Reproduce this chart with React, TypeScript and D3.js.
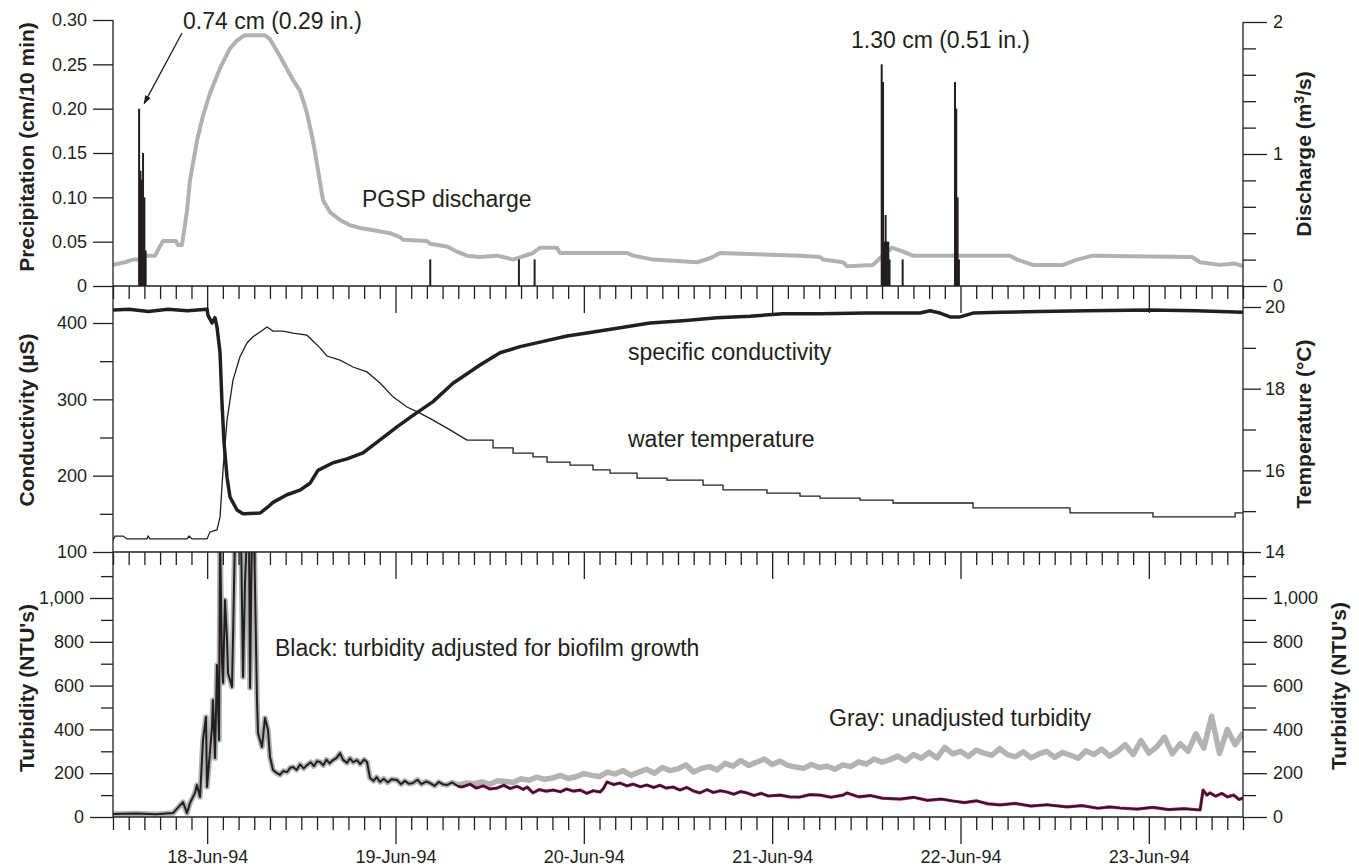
import { useEffect, useRef } from "react";
import * as d3 from "d3";

const W = 1359;
const H = 867;
const INK = "#231f20";
const FONT = "'Liberation Sans', Arial, Helvetica, sans-serif";

const startTime = new Date(1994, 5, 17, 12);
const endTime = new Date(1994, 5, 23, 12);

// every series is keyed by hours after 17-Jun-94 12:00

// precipitation, cm per 10 min
const precipHours = [3.2, 3.37, 3.53, 3.7, 3.87, 4.03, 40.3, 51.6, 53.6, 97.83, 98.0, 98.17, 98.33, 98.5, 98.67, 98.83, 100.5, 107.17, 107.33, 107.5, 107.67];
const precipCm = [0.2, 0.13, 0.12, 0.15, 0.1, 0.04, 0.03, 0.03, 0.03, 0.25, 0.23, 0.05, 0.08, 0.05, 0.05, 0.03, 0.03, 0.23, 0.2, 0.1, 0.03];

// PGSP discharge, m3/s
const dischargeHours = [0, 1.53, 2.55, 3.44, 4.33, 5.35, 5.99, 6.37, 8.03, 8.28, 8.79, 9.43, 9.81, 10.7, 11.47, 12.36, 13.64, 14.91, 15.8, 16.82, 19.37, 20.01, 21.28, 22.94, 23.83, 24.72, 25.49, 26.12, 26.76, 27.65, 28.93, 30.2, 31.48, 33.39, 35.3, 36.57, 36.96, 40.02, 40.4, 42.56, 43.84, 45.11, 46.77, 48.94, 49.7, 50.98, 53.52, 54.42, 56.58, 56.96, 65.5, 66.27, 68.82, 74.42, 76.08, 77.35, 87.55, 90.1, 90.48, 93.03, 93.54, 96.85, 97.74, 99.27, 100.68, 101.95, 114.31, 115.2, 117.24, 121.07, 122.85, 124.89, 137.51, 138.53, 141.08, 142.99, 144];
const dischargeM3s = [0.16, 0.18, 0.2, 0.2, 0.23, 0.23, 0.3, 0.34, 0.34, 0.31, 0.31, 0.57, 0.8, 1.1, 1.29, 1.46, 1.65, 1.8, 1.86, 1.9, 1.9, 1.87, 1.74, 1.56, 1.48, 1.31, 1.1, 0.88, 0.65, 0.56, 0.5, 0.46, 0.44, 0.42, 0.4, 0.37, 0.35, 0.34, 0.32, 0.3, 0.26, 0.23, 0.22, 0.23, 0.22, 0.2, 0.25, 0.29, 0.29, 0.25, 0.25, 0.23, 0.2, 0.18, 0.21, 0.25, 0.23, 0.22, 0.2, 0.18, 0.15, 0.16, 0.21, 0.29, 0.26, 0.23, 0.23, 0.2, 0.16, 0.16, 0.2, 0.23, 0.22, 0.18, 0.16, 0.17, 0.15];

// specific conductivity, uS
const condHours = [0, 2, 4.5, 7, 9.5, 11.98, 12.11, 12.62, 13.0, 13.25, 13.64, 13.89, 14.15, 14.53, 14.91, 15.8, 16.57, 18.73, 19.63, 20.39, 22.17, 23.83, 25.1, 26.12, 28.04, 29.82, 31.86, 34.03, 36.19, 38.23, 40.78, 43.33, 46.77, 49.32, 51.87, 54.42, 57.86, 60.4, 64.23, 68.43, 72.64, 76.97, 81.18, 85.38, 90.1, 96, 102.84, 104.11, 105.39, 106.67, 107.94, 109.6, 113.04, 118, 124.12, 132.15, 138, 144];
const condUS = [417, 418, 415, 418, 416, 418, 410, 400, 407, 395, 361, 295, 243, 198, 172, 155, 150, 151, 158, 165, 175, 181, 190, 207, 217, 222, 230, 247, 264, 279, 297, 321, 345, 361, 369, 375, 383, 387, 393, 400, 403, 407, 409, 412, 412, 413, 413, 416, 413, 408, 408, 413, 414, 415, 416, 417, 416, 414];

// water temperature, deg C
const tempHours = [0, 0.25, 1.27, 1.78, 4.33, 4.46, 4.72, 9.43, 9.69, 10.07, 11.98, 12.36, 13.25, 13.64, 14.02, 14.53, 15.29, 16.18, 17.08, 17.84, 18.73, 19.63, 20.39, 21.66, 22.94, 24.72, 26.38, 27.27, 28.93, 30.58, 32.37, 34.03, 35.68, 37.47, 39.12, 40.78, 42.95, 45.11, 48.43, 50.98, 53.52, 55.31, 58.24, 61.17, 63.34, 66.78, 70.6, 75.19, 77.74, 83.34, 87.55, 90.1, 95.2, 99.4, 109.6, 121.96, 132.53, 142.35, 142.99, 144];
const tempC = [14.29, 14.39, 14.39, 14.32, 14.32, 14.39, 14.32, 14.32, 14.39, 14.32, 14.32, 14.49, 14.54, 14.86, 16.01, 17.23, 18.21, 18.78, 19.12, 19.27, 19.39, 19.51, 19.41, 19.41, 19.36, 19.31, 19.0, 18.8, 18.7, 18.53, 18.41, 18.14, 17.8, 17.55, 17.4, 17.23, 16.99, 16.74, 16.55, 16.42, 16.33, 16.2, 16.13, 16.01, 15.93, 15.81, 15.76, 15.64, 15.52, 15.44, 15.37, 15.32, 15.27, 15.2, 15.08, 14.96, 14.86, 14.86, 14.96, 14.96];

// turbidity adjusted for biofilm growth, NTU (values above the frame are clipped)
const turbHours = [0, 3, 5.5, 7.65, 8.92, 9.43, 9.81, 10.45, 10.7, 11.09, 11.47, 11.85, 11.98, 12.62, 12.74, 13.0, 13.25, 13.51, 13.64, 13.89, 14.02, 14.27, 14.53, 14.66, 15.16, 15.29, 15.55, 16.31, 16.57, 16.82, 17.08, 17.33, 17.46, 17.71, 17.97, 18.35, 18.48, 18.99, 19.37, 19.75, 20.01, 20.39, 20.9, 21.28, 21.7, 22.17, 22.6, 22.94, 23.4, 23.83, 24.3, 24.72, 25.2, 25.6, 26.0, 26.38, 26.8, 27.2, 27.6, 28.04, 28.5, 28.93, 29.3, 29.82, 30.2, 30.6, 31.09, 31.5, 32.0, 32.37, 32.75, 33.2, 33.6, 34.03, 34.5, 35.0, 35.5, 36.19, 36.7, 37.2, 37.7, 38.23, 38.8, 39.3, 39.9, 40.4, 41.0, 41.5, 42.0, 42.56, 43.2, 44.0, 44.47, 45.5, 46.3, 47.2, 48.0, 48.94, 49.8, 50.6, 51.5, 52.3, 52.77, 53.52, 54.3, 55.2, 56.07, 57.0, 57.8, 58.7, 59.51, 60.4, 61.2, 62.06, 62.5, 62.95, 63.8, 64.61, 65.5, 66.3, 67.2, 68.05, 68.9, 69.7, 70.5, 71.36, 72.25, 73.1, 74.0, 74.8, 75.7, 76.5, 77.4, 78.24, 79.1, 80.0, 80.79, 81.7, 82.6, 83.5, 84.99, 86.2, 87.55, 88.8, 90.1, 91.5, 93.03, 93.54, 95.0, 96.5, 98.0, 100.3, 102.0, 103.8, 105.5, 107.05, 108.5, 110.0, 111.5, 113.04, 115.0, 117.0, 119.0, 121.58, 123.5, 125.5, 127.0, 128.33, 130.5, 132.5, 134.5, 136.5, 138.53, 138.91, 139.4, 139.8, 140.5, 141.3, 142.0, 142.8, 143.5, 144];
const turbAdjusted = [14, 16, 13, 18, 68, 18, 64, 110, 146, 91, 352, 457, 137, 411, 534, 269, 694, 352, 1300, 703, 612, 991, 808, 658, 594, 808, 1300, 1300, 639, 1068, 1300, 1300, 589, 1300, 1300, 534, 384, 320, 452, 397, 274, 215, 200, 192, 210, 205, 225, 228, 215, 240, 222, 237, 250, 232, 255, 251, 236, 262, 245, 260, 270, 292, 262, 247, 268, 250, 260, 242, 262, 251, 178, 165, 182, 160, 175, 158, 172, 169, 150, 165, 152, 155, 170, 150, 162, 155, 142, 160, 150, 146, 158, 140, 137, 150, 132, 142, 128, 132, 145, 130, 140, 126, 137, 110, 125, 118, 123, 115, 128, 118, 123, 108, 120, 114, 130, 160, 148, 155, 142, 150, 138, 146, 135, 145, 132, 137, 123, 135, 118, 110, 125, 112, 120, 114, 104, 116, 110, 98, 108, 96, 100, 92, 91, 102, 100, 90, 100, 110, 92, 98, 86, 82, 90, 76, 82, 73, 66, 74, 60, 55, 62, 50, 56, 46, 52, 40, 46, 41, 36, 44, 34, 38, 32, 123, 100, 110, 95, 108, 92, 100, 80, 87];

// unadjusted turbidity where it leaves the adjusted record, hourly from 44 h
const rawStartHour = 44;
const turbUnadjusted = [146, 155, 152, 160, 150, 166, 162, 158, 175, 168, 182, 172, 178, 190, 176, 184, 198, 190, 185, 205, 196, 212, 190, 205, 218, 200, 226, 212, 220, 238, 205, 222, 230, 215, 245, 232, 258, 236, 250, 265, 240, 255, 236, 228, 222, 240, 226, 232, 218, 238, 230, 252, 242, 265, 250, 262, 278, 256, 285, 268, 295, 270, 318, 288, 300, 276, 305, 292, 282, 312, 285, 275, 298, 270, 288, 300, 272, 295, 282, 268, 302, 285, 310, 278, 300, 330, 285, 350, 292, 320, 365, 288, 335, 300, 380, 315, 460, 290, 400, 330, 385];

const precipTicks = [0, 0.05, 0.1, 0.15, 0.2, 0.25, 0.3];
const dischargeTicks = [0, 1, 2];
const dischargeMinor = [0.2, 0.4, 0.6, 0.8, 1.2, 1.4, 1.6, 1.8];
const condTicks = [100, 200, 300, 400];
const condMinor = [150, 250, 350];
const tempTicks = [14, 16, 18, 20];
const tempMinor = [15, 17, 19];
const turbTicks = [0, 200, 400, 600, 800, 1000];
const turbMinor = [100, 300, 500, 700, 900, 1100];

type Pt = [number, number];
const zip = (a: number[], b: number[]): Pt[] => a.slice(0, Math.min(a.length, b.length)).map((h, i) => [h, b[i]]);

export default function App() {
  const ref = useRef<SVGSVGElement>(null);

  useEffect(() => {
    const svg = d3.select(ref.current);
    svg.selectAll("*").remove();

    const L = 113;
    const R = 1243;
    const hr = (h: number) => new Date(startTime.getTime() + h * 3600000);
    const x = d3.scaleTime().domain([startTime, endTime]).range([L, R]);
    const xh = (h: number) => x(hr(h));

    const yPrecip = d3.scaleLinear().domain([0, 0.3]).range([286, 20]);
    const yDis = d3.scaleLinear().domain([0, 2]).range([286, 22]);
    const yCond = d3.scaleLinear().domain([100, 400]).range([552, 323]);
    const yTemp = d3.scaleLinear().domain([14, 20]).range([552, 307]);
    const yTurb = d3.scaleLinear().domain([0, 1000]).range([817, 598]);

    const defs = svg.append("defs");
    const clip = (id: string, top: number, bottom: number) =>
      defs.append("clipPath").attr("id", id).append("rect").attr("x", L).attr("y", top).attr("width", R - L).attr("height", bottom - top);
    clip("c1", 0, 286);
    clip("c2", 286, 552);
    clip("c3", 552, 817);
    defs.append("marker").attr("id", "arrow").attr("viewBox", "0 0 10 10").attr("refX", 9).attr("refY", 5)
      .attr("markerWidth", 9).attr("markerHeight", 9).attr("markerUnits", "userSpaceOnUse").attr("orient", "auto")
      .append("path").attr("d", "M0,1.5 L10,5 L0,8.5 Z").attr("fill", INK);

    const lineOf = (y: d3.ScaleLinear<number, number>, curve: d3.CurveFactory = d3.curveLinear) =>
      d3.line<Pt>().x((d) => xh(d[0])).y((d) => y(d[1])).curve(curve);

    // ---- panel 1: discharge + precipitation
    const g1 = svg.append("g").attr("clip-path", "url(#c1)");
    g1.append("path").datum(zip(dischargeHours, dischargeM3s)).attr("d", lineOf(yDis))
      .attr("fill", "none").attr("stroke", "#b1b1b3").attr("stroke-width", 4).attr("stroke-linejoin", "round");
    const step = xh(1 / 6) - xh(0);
    g1.selectAll("rect.bar").data(zip(precipHours, precipCm)).join("rect")
      .attr("x", (d) => xh(d[0])).attr("width", step + 0.7)
      .attr("y", (d) => yPrecip(d[1])).attr("height", (d) => 286 - yPrecip(d[1])).attr("fill", INK);

    // ---- panel 2: conductivity + temperature
    const g2 = svg.append("g").attr("clip-path", "url(#c2)");
    const temp = zip(tempHours, tempC);
    const stepFrom = 45.11;
    g2.append("path").datum(temp.filter((d) => d[0] <= stepFrom)).attr("d", lineOf(yTemp))
      .attr("fill", "none").attr("stroke", INK).attr("stroke-width", 1.3);
    g2.append("path").datum(temp.filter((d) => d[0] >= stepFrom)).attr("d", lineOf(yTemp, d3.curveStepAfter))
      .attr("fill", "none").attr("stroke", INK).attr("stroke-width", 1.3);
    g2.append("path").datum(zip(condHours, condUS)).attr("d", lineOf(yCond))
      .attr("fill", "none").attr("stroke", INK).attr("stroke-width", 3.5).attr("stroke-linejoin", "round");

    // ---- panel 3: turbidity
    const g3 = svg.append("g").attr("clip-path", "url(#c3)");
    const adjusted = zip(turbHours, turbAdjusted);
    const unadjusted: Pt[] = adjusted.filter((d) => d[0] < rawStartHour)
      .concat(turbUnadjusted.map((v, i) => [rawStartHour + i, v] as Pt));
    g3.append("path").datum(unadjusted).attr("d", lineOf(yTurb))
      .attr("fill", "none").attr("stroke", "#b3b3b6").attr("stroke-width", 5.5).attr("stroke-linejoin", "round");
    g3.append("path").datum(adjusted.filter((d) => d[0] >= rawStartHour)).attr("d", lineOf(yTurb))
      .attr("fill", "none").attr("stroke", "#d0147c").attr("stroke-width", 3.2).attr("stroke-linejoin", "round");
    g3.append("path").datum(adjusted).attr("d", lineOf(yTurb))
      .attr("fill", "none").attr("stroke", INK).attr("stroke-width", 2).attr("stroke-linejoin", "round");

    // ---- axes
    const style = (g: d3.Selection<SVGGElement, unknown, null, undefined>) => {
      g.selectAll(".domain").remove();
      g.selectAll("line").attr("stroke", INK).attr("stroke-width", 1.3);
      g.selectAll("text").attr("font-family", FONT).attr("font-size", 18).attr("fill", INK);
    };

    const yAxis = (
      side: "left" | "right", scale: d3.ScaleLinear<number, number>, majors: number[], minors: number[],
      majorLen: number, minorLen: number, fmt: (d: number) => string, pad = 6
    ) => {
      const make = side === "left" ? d3.axisLeft : d3.axisRight;
      const g = svg.append("g").attr("transform", `translate(${side === "left" ? L : R},0)`);
      g.append("g").call(make(scale).tickValues(majors).tickSize(majorLen).tickSizeOuter(0).tickPadding(pad).tickFormat((d) => fmt(+d)));
      g.append("g").call(make(scale).tickValues(minors).tickSize(minorLen).tickSizeOuter(0).tickFormat(() => ""));
      style(g);
    };

    const fmtPrecip = (d: number) => (d === 0 ? "0" : d3.format(".2f")(d));
    const fmtComma = d3.format(",");
    const fmtInt = (d: number) => String(d);

    yAxis("left", yPrecip, precipTicks, [], 20, 0, fmtPrecip);
    yAxis("left", yCond, condTicks, condMinor, 20, 13, fmtInt);
    yAxis("left", yTurb, turbTicks, turbMinor, 23, 12, fmtComma);
    yAxis("right", yDis, dischargeTicks, dischargeMinor, 24, 13, fmtInt);
    yAxis("right", yTemp, tempTicks, tempMinor, 18, 13, fmtInt, 4);
    yAxis("right", yTurb, turbTicks, turbMinor, 24, 13, fmtComma);

    const dayTicks = d3.timeDay.range(startTime, endTime);
    const twoHourTicks = d3.timeHour.every(2)!.range(startTime, new Date(endTime.getTime() + 1)).filter((d) => d.getHours() !== 0);
    const fmtDay = d3.timeFormat("%d-%b-%y");

    [286, 552, 817].forEach((yPos, i) => {
      const g = svg.append("g").attr("transform", `translate(0,${yPos})`);
      g.append("g").call(d3.axisBottom(x).tickValues(twoHourTicks).tickSize(13).tickSizeOuter(0).tickFormat(() => ""));
      g.append("g").call(d3.axisBottom(x).tickValues(dayTicks).tickSize(27).tickSizeOuter(0).tickPadding(6)
        .tickFormat((d) => (i === 2 ? fmtDay(d as Date) : "")));
      style(g);
      g.append("line").attr("x1", L).attr("x2", R).attr("y1", 0).attr("y2", 0).attr("stroke", INK).attr("stroke-width", 1.3);
    });

    svg.append("line").attr("x1", L).attr("x2", L).attr("y1", 20).attr("y2", 817).attr("stroke", INK).attr("stroke-width", 1.3);
    svg.append("line").attr("x1", R).attr("x2", R).attr("y1", 22).attr("y2", 817).attr("stroke", INK).attr("stroke-width", 1.3);

    // ---- axis titles
    const title = (cx: number, cy: number, text: string) =>
      svg.append("text").attr("transform", `translate(${cx},${cy}) rotate(-90)`).attr("text-anchor", "middle")
        .attr("font-family", FONT).attr("font-weight", "bold").attr("font-size", 21).attr("fill", INK).text(text);

    title(34, 147, "Precipitation (cm/10 min)");
    title(34, 420, "Conductivity (\u00b5S)");
    title(34, 688, "Turbidity (NTU's)");
    const dis = title(1311, 154, "Discharge (m");
    dis.append("tspan").attr("dy", -7).attr("font-size", 14).text("3");
    dis.append("tspan").attr("dy", 7).text("/s)");
    title(1311, 424, "Temperature (\u00b0C)");
    title(1346, 686, "Turbidity (NTU's)");

    // ---- annotations
    const note = (tx: number, ty: number, text: string) =>
      svg.append("text").attr("x", tx).attr("y", ty).attr("font-family", FONT).attr("font-size", 23).attr("fill", INK).text(text);

    note(183, 29, "0.74 cm (0.29 in.)");
    svg.append("line").attr("x1", 182).attr("y1", 33)
      .attr("x2", xh(precipHours[0]) + 6).attr("y2", yPrecip(precipCm[0]) - 5)
      .attr("stroke", INK).attr("stroke-width", 1.3).attr("marker-end", "url(#arrow)");
    note(851, 48, "1.30 cm (0.51 in.)");
    note(362, 207, "PGSP discharge");
    note(628, 360, "specific conductivity");
    note(628, 447, "water temperature");
    note(275, 656, "Black: turbidity adjusted for biofilm growth");
    note(829, 726, "Gray: unadjusted turbidity");
  }, []);

  return <svg ref={ref} width={W} height={H} style={{ position: "absolute", left: 0, top: 0, background: "#fff" }} />;
}
